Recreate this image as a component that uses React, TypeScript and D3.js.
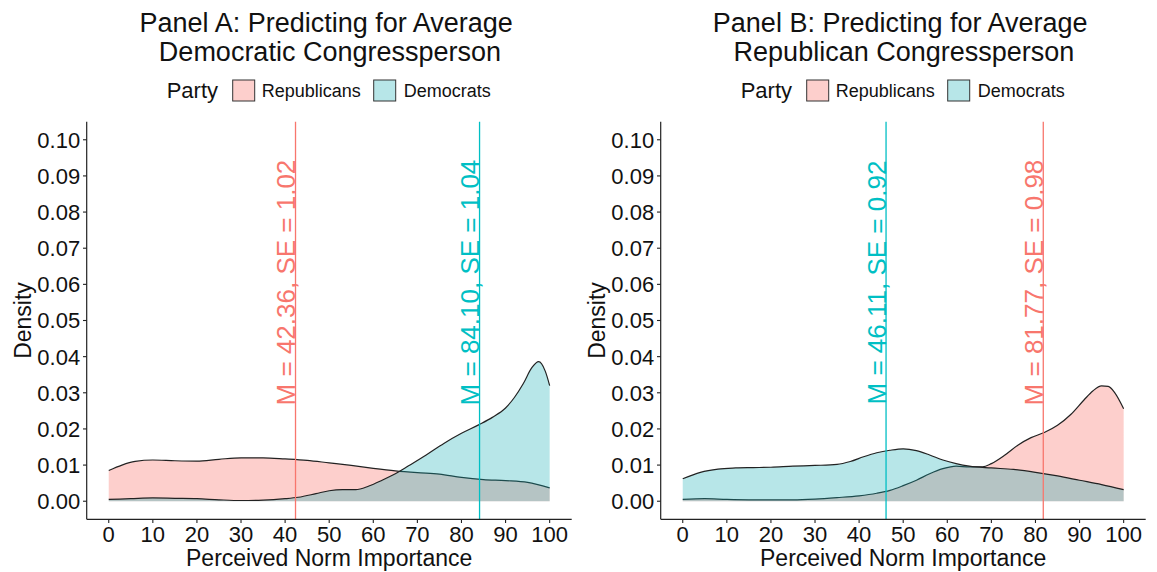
import React from "react";
import * as d3 from "d3";

// ---------- data ----------
const xTicks = [0, 10, 20, 30, 40, 50, 60, 70, 80, 90, 100];
const yTicks = [0, 0.01, 0.02, 0.03, 0.04, 0.05, 0.06, 0.07, 0.08, 0.09, 0.1];

// Panel A: Predicting for Average Democratic Congressperson
const aRepX = [0, 3, 6, 10, 15, 20, 25, 30, 35, 40, 45, 50, 55, 60, 65, 70, 75, 80, 85, 90, 95, 100];
const aRepY = [0.0085, 0.01, 0.011, 0.0114, 0.0112, 0.0111, 0.0116, 0.012, 0.012, 0.0117, 0.0113, 0.0106, 0.0099, 0.0091, 0.0084, 0.0079, 0.0075, 0.0066, 0.006, 0.0057, 0.0052, 0.0037];
const aDemX = [0, 5, 10, 15, 20, 25, 30, 35, 40, 43, 47, 50, 53, 56, 59, 62, 65, 68, 72, 76, 80, 84, 87, 90, 92, 94, 96, 97.5, 99, 100];
const aDemY = [0.0005, 0.0007, 0.0009, 0.0008, 0.0007, 0.0004, 0.0002, 0.0003, 0.0007, 0.0011, 0.0021, 0.0029, 0.0032, 0.0032, 0.0042, 0.0058, 0.0076, 0.0098, 0.0128, 0.016, 0.0188, 0.0212, 0.0232, 0.0258, 0.0287, 0.0325, 0.037, 0.0386, 0.036, 0.032];

// Panel B: Predicting for Average Republican Congressperson
const bRepX = [0, 5, 10, 15, 20, 25, 30, 35, 40, 44, 47, 50, 53, 56, 59, 62, 65, 68, 70, 73, 76, 79, 82, 85, 88, 91, 93, 95, 96.5, 98, 100];
const bRepY = [0.0005, 0.0007, 0.0005, 0.0004, 0.0004, 0.0004, 0.0006, 0.001, 0.0015, 0.0022, 0.003, 0.0043, 0.0058, 0.0076, 0.009, 0.0097, 0.0095, 0.0095, 0.0104, 0.0127, 0.0155, 0.0176, 0.019, 0.021, 0.024, 0.028, 0.0305, 0.0319, 0.0318, 0.03, 0.0256];
const bDemX = [0, 4, 8, 12, 16, 20, 25, 30, 35, 38, 41, 44, 47, 50, 53, 56, 59, 62, 65, 70, 75, 80, 85, 90, 95, 100];
const bDemY = [0.0062, 0.008, 0.0089, 0.0092, 0.0093, 0.0094, 0.0097, 0.0099, 0.0102, 0.011, 0.0123, 0.0134, 0.0141, 0.0145, 0.014, 0.0128, 0.0114, 0.0104, 0.0097, 0.0092, 0.0088, 0.008, 0.007, 0.0058, 0.0046, 0.0032];

const panelTitles = [
  ["Panel A: Predicting for Average", " Democratic Congressperson"],
  ["Panel B: Predicting for Average", " Republican Congressperson"],
];
const meanRep = [42.36, 81.77];
const seRep = ["1.02", "0.98"];
const meanDem = [84.1, 46.11];
const seDem = ["1.04", "0.92"];
const legendLabels = ["Republicans", "Democrats"];

// ---------- styles ----------
const FONT = "'Liberation Sans', Arial, Helvetica, sans-serif";
const RED = "#F8766D";
const TEAL = "#00BFC4";
const REP_FILL = "rgba(248,118,109,0.35)";
const DEM_FILL = "rgba(16,172,178,0.30)";

const W = 1157;
const H = 572;

function zip(xs: number[], ys: number[]) {
  return xs.map((x, i) => ({ x, y: ys[i] }));
}

function Panel({ idx, left }: { idx: number; left: number }) {
  const x = d3.scaleLinear().domain([-5, 105]).range([left, left + 485]);
  const y = d3.scaleLinear().domain([-0.005, 0.105]).range([519.3, 121.7]);
  const [x0, x1] = x.range();
  const [yb, yt] = y.range();
  const cx = (x0 + x1) / 2;

  const rep = idx === 0 ? zip(aRepX, aRepY) : zip(bRepX, bRepY);
  const dem = idx === 0 ? zip(aDemX, aDemY) : zip(bDemX, bDemY);

  const area = d3
    .area<{ x: number; y: number }>()
    .x((d) => x(d.x))
    .y0(y(0))
    .y1((d) => y(d.y))
    .curve(d3.curveMonotoneX);
  const line = d3
    .line<{ x: number; y: number }>()
    .x((d) => x(d.x))
    .y((d) => y(d.y))
    .curve(d3.curveMonotoneX);

  const fmt = d3.format(".2f");
  const labelY = y(0.0605);

  const vlines = [
    { m: meanRep[idx], se: seRep[idx], c: RED },
    { m: meanDem[idx], se: seDem[idx], c: TEAL },
  ];

  // legend
  const legLeft = x0 + 80;
  const legY = 90.5;

  return (
    <g>
      {/* title */}
      <text x={cx - 3} y={32} textAnchor="middle" fontSize={27} fill="#111" style={{ whiteSpace: "pre" }}>
        {panelTitles[idx][0]}
      </text>
      <text x={cx - 3} y={61} textAnchor="middle" fontSize={27} fill="#111" style={{ whiteSpace: "pre" }}>
        {panelTitles[idx][1]}
      </text>

      {/* legend */}
      <text x={legLeft} y={98} fontSize={22} fill="#111">Party</text>
      <rect x={legLeft + 66} y={legY - 10.5} width={22} height={21} fill={REP_FILL} stroke="#333" strokeWidth={1} />
      <text x={legLeft + 95} y={97} fontSize={18} fill="#111">{legendLabels[0]}</text>
      <rect x={legLeft + 207} y={legY - 10.5} width={22} height={21} fill={DEM_FILL} stroke="#333" strokeWidth={1} />
      <text x={legLeft + 237} y={97} fontSize={18} fill="#111">{legendLabels[1]}</text>

      {/* densities */}
      <path d={area(rep) || ""} fill={REP_FILL} />
      <path d={line(rep) || ""} fill="none" stroke="#222" strokeWidth={1.2} />
      <path d={area(dem) || ""} fill={DEM_FILL} />
      <path d={line(dem) || ""} fill="none" stroke="#222" strokeWidth={1.2} />

      {/* mean lines + labels */}
      {vlines.map((v, i) => (
        <g key={i}>
          <line x1={x(v.m)} x2={x(v.m)} y1={yt} y2={yb} stroke={v.c} strokeWidth={1.3} />
          <text
            transform={`translate(${x(v.m) - 0.5},${labelY}) rotate(-90)`}
            textAnchor="middle"
            fontSize={26}
            fill={v.c}
          >
            {`M = ${v.m.toFixed(2)}, SE = ${v.se}`}
          </text>
        </g>
      ))}

      {/* axes */}
      <line x1={x0} x2={x0} y1={yt} y2={yb} stroke="#222" strokeWidth={1.2} />
      <line x1={x0} x2={x1} y1={yb} y2={yb} stroke="#222" strokeWidth={1.2} />
      {yTicks.map((t) => (
        <g key={"y" + t}>
          <line x1={x0 - 3.7} x2={x0} y1={y(t)} y2={y(t)} stroke="#222" strokeWidth={1.1} />
          <text x={x0 - 6.5} y={y(t)} dy="0.36em" textAnchor="end" fontSize={22} fill="#111">
            {fmt(t)}
          </text>
        </g>
      ))}
      {xTicks.map((t) => (
        <g key={"x" + t}>
          <line x1={x(t)} x2={x(t)} y1={yb} y2={yb + 3.7} stroke="#222" strokeWidth={1.1} />
          <text x={x(t)} y={541.5} textAnchor="middle" fontSize={22} fill="#111">
            {t}
          </text>
        </g>
      ))}
      <text x={cx} y={566} textAnchor="middle" fontSize={23} fill="#111">
        Perceived Norm Importance
      </text>
      <text
        transform={`translate(${x0 - 56},${(yt + yb) / 2}) rotate(-90)`}
        textAnchor="middle"
        fontSize={23}
        fill="#111"
      >
        Density
      </text>
    </g>
  );
}

export default function App() {
  return (
    <svg
      width={W}
      height={H}
      viewBox={`0 0 ${W} ${H}`}
      style={{ position: "absolute", left: 0, top: 0, background: "#fff", fontFamily: FONT }}
    >
      <rect x={0} y={0} width={W} height={H} fill="#fff" />
      <Panel idx={0} left={86.7} />
      <Panel idx={1} left={660.7} />
    </svg>
  );
}
